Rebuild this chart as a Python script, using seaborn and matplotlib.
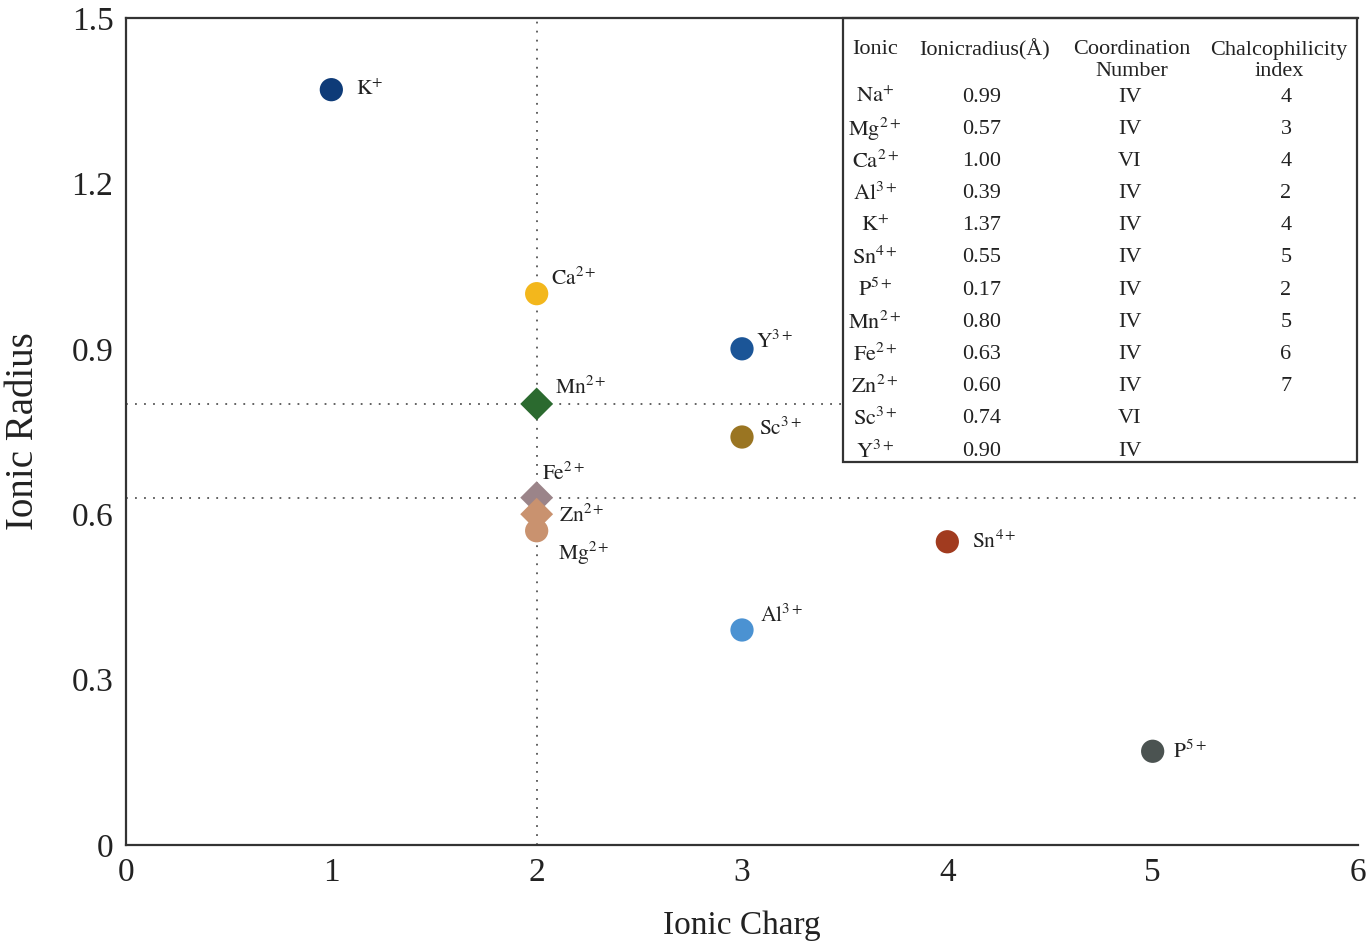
import matplotlib
matplotlib.use("Agg")
import matplotlib.pyplot as plt
import seaborn as sns
import pandas as pd

# ---- data ----
ions = ["K", "Ca", "Y", "Mn", "Sc", "Fe", "Zn", "Mg", "Sn", "Al", "P"]
charges_sup = ["+", "2+", "3+", "2+", "3+", "2+", "2+", "2+", "4+", "3+", "5+"]
ionic_charge = [1, 2, 3, 2, 3, 2, 2, 2, 4, 3, 5]
ionic_radius = [1.37, 1.00, 0.90, 0.80, 0.74, 0.63, 0.60, 0.57, 0.55, 0.39, 0.17]
shapes = ["o", "o", "o", "D", "o", "D", "D", "o", "o", "o", "o"]
colors = ["#0e3b78", "#f3b71c", "#1b5597", "#2b6a2f", "#9a7522", "#9b8489",
          "#c9926f", "#c9926f", "#a13b1f", "#4b92d2", "#4b5351"]
label_offsets = [(18, 0), (10, 11), (10, 5), (13, 12), (12, 6), (4, 17),
                 (16, -1), (15, -16), (18, 0), (13, 10), (15, 0)]

table_header_1 = ["Ionic", "Ionicradius(Å)", "Coordination", "Chalcophilicity"]
table_header_2 = ["", "", "Number", "index"]
table_ions = ["Na", "Mg", "Ca", "Al", "K", "Sn", "P", "Mn", "Fe", "Zn", "Sc", "Y"]
table_sup = ["+", "2+", "2+", "3+", "+", "4+", "5+", "2+", "2+", "2+", "3+", "3+"]
table_radius = ["0.99", "0.57", "1.00", "0.39", "1.37", "0.55", "0.17", "0.80", "0.63", "0.60", "0.74", "0.90"]
table_coord = ["IV", "IV", "VI", "IV", "IV", "IV", "IV", "IV", "IV", "IV", "VI", "IV"]
table_chalco = ["4", "3", "4", "2", "4", "5", "2", "5", "6", "7", "", ""]

df = pd.DataFrame({"ion": ions, "charge": ionic_charge, "radius": ionic_radius})

sns.set_style("white")
plt.rcParams["font.family"] = ["Liberation Serif", "DejaVu Serif"]
plt.rcParams["mathtext.fontset"] = "stix"

W, H = 1369, 951
fig = plt.figure(figsize=(W / 100, H / 100), dpi=100)
ax = fig.add_axes([126 / W, 1 - 845 / H, (1358 - 126) / W, (845 - 18) / H])

# reference lines
ax.axvline(2, color="#555555", ls=(0, (1, 4)), lw=1.3, zorder=1)
ax.plot([0, 3.49], [0.80, 0.80], color="#555555", ls=(0, (1, 4)), lw=1.3, zorder=1)
ax.axhline(0.63, color="#555555", ls=(0, (1, 4)), lw=1.3, zorder=1)

sns.scatterplot(data=df, x="charge", y="radius", hue="ion", style="ion",
                palette=dict(zip(ions, colors)), markers=dict(zip(ions, shapes)),
                s=280, edgecolor="none", legend=False, ax=ax, zorder=3)

for ion, sup, x, y, off in zip(ions, charges_sup, ionic_charge, ionic_radius, label_offsets):
    ax.annotate(r"$\mathrm{%s}^{%s}$" % (ion, sup), (x, y), xytext=off,
                textcoords="offset points", ha="left", va="center",
                fontsize=15.5, color="#222222", zorder=4)

ax.set_xlim(0, 6)
ax.set_ylim(0, 1.5)
ax.set_xticks([0, 1, 2, 3, 4, 5, 6])
ax.set_xticklabels(["0", "1", "2", "3", "4", "5", "6"])
ax.set_yticks([0, 0.3, 0.6, 0.9, 1.2, 1.5])
ax.set_yticklabels(["0", "0.3", "0.6", "0.9", "1.2", "1.5"])
ax.tick_params(axis="both", labelsize=24, colors="#222222", length=0, pad=9)
ax.set_xlabel("Ionic Charg", fontsize=24, color="#222222", labelpad=16)
ax.set_ylabel("Ionic Radius", fontsize=28, color="#222222", labelpad=21)
for side in ["left", "bottom", "top"]:
    ax.spines[side].set_color("#333333")
    ax.spines[side].set_linewidth(1.6)
ax.spines["right"].set_visible(False)

# table box
tx0, tx1, ty0, ty1 = 843, 1357, 18, 462
box = plt.Rectangle((tx0 / W, 1 - ty1 / H), (tx1 - tx0) / W, (ty1 - ty0) / H,
                    transform=fig.transFigure, fill=False, edgecolor="#333333",
                    lw=1.6, zorder=5)
fig.add_artist(box)

col_x = [875, 985, 1132, 1279]
for cx, h1, h2 in zip(col_x, table_header_1, table_header_2):
    fig.text(cx / W, 1 - 50 / H, h1, ha="center", va="center",
             fontsize=16, color="#222222")
    if h2:
        fig.text(cx / W, 1 - 72 / H, h2, ha="center", va="center",
                 fontsize=16, color="#222222")
row_y0, row_dy = 97, 32.2
for i in range(len(table_ions)):
    y = 1 - (row_y0 + i * row_dy) / H
    fig.text(col_x[0] / W, y, r"$\mathrm{%s}^{%s}$" % (table_ions[i], table_sup[i]),
             ha="center", va="center", fontsize=16, color="#222222")
    fig.text((col_x[1] - 3) / W, y, table_radius[i], ha="center", va="center",
             fontsize=16, color="#222222")
    fig.text((col_x[2] - 2) / W, y, table_coord[i], ha="center", va="center",
             fontsize=16, color="#222222")
    fig.text((col_x[3] + 7) / W, y, table_chalco[i], ha="center", va="center",
             fontsize=16, color="#222222")

fig.savefig("out.png", dpi=100)
